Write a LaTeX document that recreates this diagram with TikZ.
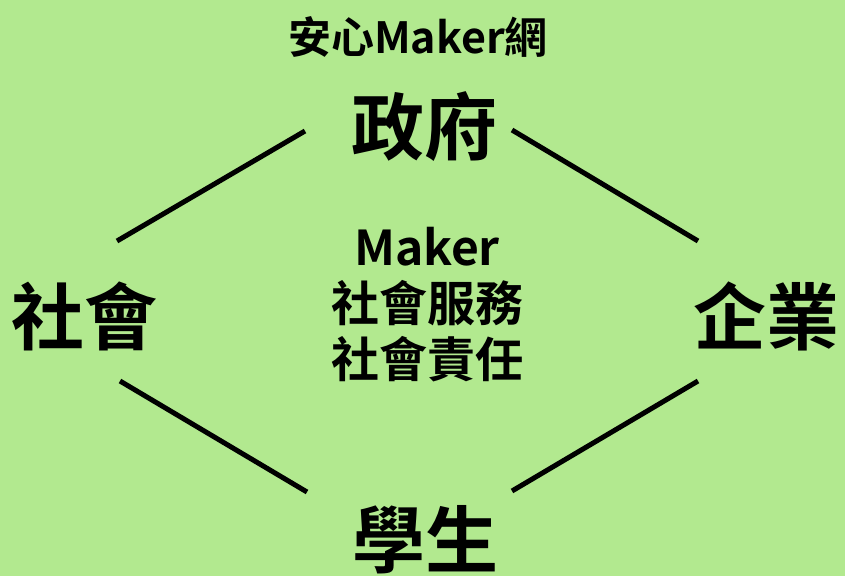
\documentclass[tikz,border=0pt]{standalone}
\usepackage{fontspec}
\newfontfamily\cjk{Noto Sans CJK TC}[BoldFont={* Bold}]
\definecolor{bg}{HTML}{B2E98F}
\tikzset{
  lbl/.style={inner sep=0pt, font=\cjk\bfseries\fontsize{73}{73}\selectfont},
  ttl/.style={inner sep=0pt, font=\cjk\bfseries\fontsize{43}{43}\selectfont},
  mid/.style={inner sep=0pt, align=center, font=\cjk\bfseries\fontsize{48}{56}\selectfont},
  link/.style={line width=5pt, black}
}
\begin{document}
\begin{tikzpicture}[x=1pt,y=-1pt]
\fill[bg] (0,0) rectangle (845,576);
\useasboundingbox (0,0) rectangle (845,576);
\node[ttl] (title) at (418,37) {安心Maker網};
\node[lbl] (gov) at (424,127) {政府};
\node[lbl] (soc) at (84,316) {社會};
\node[lbl] (biz) at (766,316) {企業};
\node[lbl] (stu) at (425,540) {學生};
\node[mid] (center) at (427,305) {Maker\\社會服務\\社會責任};
\coordinate (g1) at (305,131);
\coordinate (s1) at (117,241);
\coordinate (g2) at (512,130);
\coordinate (b1) at (698,241);
\coordinate (s2) at (120,381);
\coordinate (t1) at (307,492);
\coordinate (t2) at (512,491);
\coordinate (b2) at (698,381);
\draw[link] (g1) -- (s1);
\draw[link] (g2) -- (b1);
\draw[link] (s2) -- (t1);
\draw[link] (t2) -- (b2);
\end{tikzpicture}
\end{document}
